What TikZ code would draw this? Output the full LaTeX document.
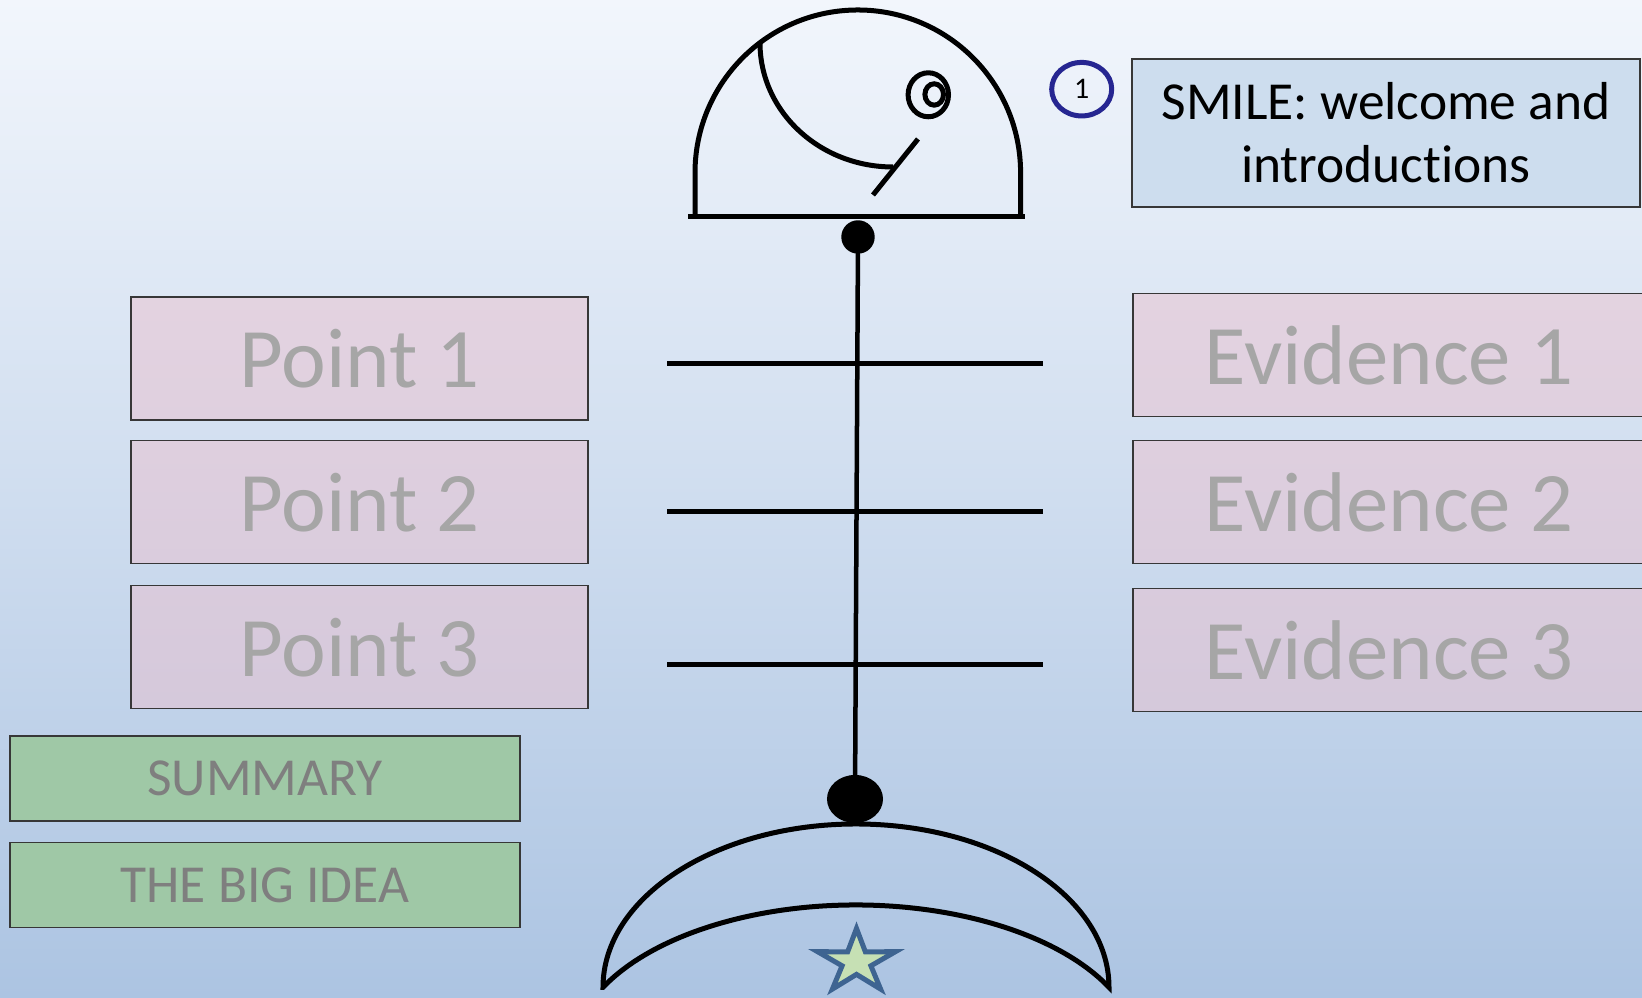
\documentclass[tikz,border=0pt]{standalone}
\usepackage{fontspec}
\setmainfont{Carlito}[Ligatures=NoCommon]
\usetikzlibrary{shapes.geometric}
\definecolor{bgtop}{RGB}{242,246,252}
\definecolor{bgbot}{RGB}{172,196,226}
\definecolor{pinkfill}{RGB}{234,192,206}
\definecolor{greenfill}{RGB}{159,200,166}
\definecolor{bluefill}{RGB}{205,221,238}
\definecolor{boxline}{RGB}{55,55,55}
\definecolor{lightgrey}{RGB}{166,166,166}
\definecolor{midgrey}{RGB}{127,127,127}
\definecolor{navy}{RGB}{38,38,145}
\definecolor{starfill}{RGB}{198,224,180}
\definecolor{starline}{RGB}{62,100,145}
\begin{document}
\begin{tikzpicture}[x=0.01cm,y=0.01cm,
  ink/.style={line width=0.05cm,draw=black,line join=miter},
  plainbox/.style={draw=boxline,line width=0.015cm,inner sep=0pt,outer sep=0pt},
  pointbox/.style={plainbox,fill=pinkfill,fill opacity=0.5,text opacity=1,
    text=lightgrey,minimum height=1.23cm,font=\fontsize{24.1}{28}\selectfont},
  leftbox/.style={pointbox,minimum width=4.57cm},
  rightbox/.style={pointbox,minimum width=5.12cm},
  greenbox/.style={plainbox,fill=greenfill,text=midgrey,minimum width=5.10cm,
    minimum height=0.85cm,font=\fontsize{15.2}{18}\selectfont},
  titlebox/.style={plainbox,fill=bluefill,text=black,minimum width=5.08cm,
    minimum height=1.48cm,align=center,font=\fontsize{15.2}{17.9}\selectfont},
  dot/.style={fill=black,draw=none,inner sep=0pt,outer sep=0pt},
  rib/.style={line width=0.05cm,draw=black}]

% page and background
\useasboundingbox (0,0) rectangle (1642,998);
\shade[top color=bgtop,bottom color=bgbot,middle color=bgtop!50!bgbot] (0,0) rectangle (1642,998);

% spine dots and spine
\node[dot,circle,minimum size=0.334cm] (topdot) at (858,761) {};
\node[dot,ellipse,minimum width=0.56cm,minimum height=0.48cm] (botdot) at (855,199) {};
\draw[line width=0.045cm] (topdot.center) -- (botdot.center);

% ribs
\foreach \yy in {634,486,333}
  \draw[rib] (667,\yy) -- (1043,\yy);

% head: base, dome, gill, mouth, eye
\draw[ink] (688,781) -- (1025,781);
\draw[ink] (695,781) -- (695,825) arc[start angle=180,end angle=0,x radius=162.8,y radius=163] -- (1020.6,781);
\draw[ink] (760,955) arc[start angle=180,end angle=270,x radius=133,y radius=124];
\draw[ink] (873,803) -- (918,859);
\draw[ink] (928.3,903.2) ellipse[x radius=20.2,y radius=22];
\draw[ink] (934.2,903.5) ellipse[x radius=9.3,y radius=10.7];

% tail: outer half ellipse, inner shallow elliptic arc
\draw[ink] (603,10.7) arc[start angle=180,end angle=0,x radius=253,y radius=163.3]
  arc[start angle=26.83,end angle=153.17,x radius=283.5,y radius=150] -- cycle;

% star
\draw[line width=0.05cm,draw=starline,fill=starfill,line join=miter]
  (856.5,69.5) -- (865.4,46.03) -- (895.5,46.35) -- (870.9,32.17) -- (880.6,8.9)
  -- (856.5,23.6) -- (832.4,8.9) -- (842.1,32.17) -- (817.5,46.35)
  -- (847.6,46.03) -- cycle;

% points
\node[leftbox] (p1) at (359.5,639.3) {Point 1};
\node[leftbox] (p2) at (359.5,495.8) {Point 2};
\node[leftbox] (p3) at (359.5,350.8) {Point 3};

% evidence
\node[rightbox] (e1) at (1389,643) {Evidence 1};
\node[rightbox] (e2) at (1389,496) {Evidence 2};
\node[rightbox] (e3) at (1389,348) {Evidence 3};

% summary boxes
\node[greenbox] (summary) at (265,219.5) {SUMMARY};
\node[greenbox] (bigidea) at (265,113) {THE BIG IDEA};

% title and its number
\node[titlebox] (smile) at (1386,865) {SMILE: welcome and\\introductions};
\node[draw=navy,line width=0.05cm,ellipse,minimum width=0.60cm,minimum height=0.535cm,
  inner sep=0pt,font=\fontsize{8.5}{9}\selectfont] (num) at (1081.7,908.8) {1};
\end{tikzpicture}
\end{document}
